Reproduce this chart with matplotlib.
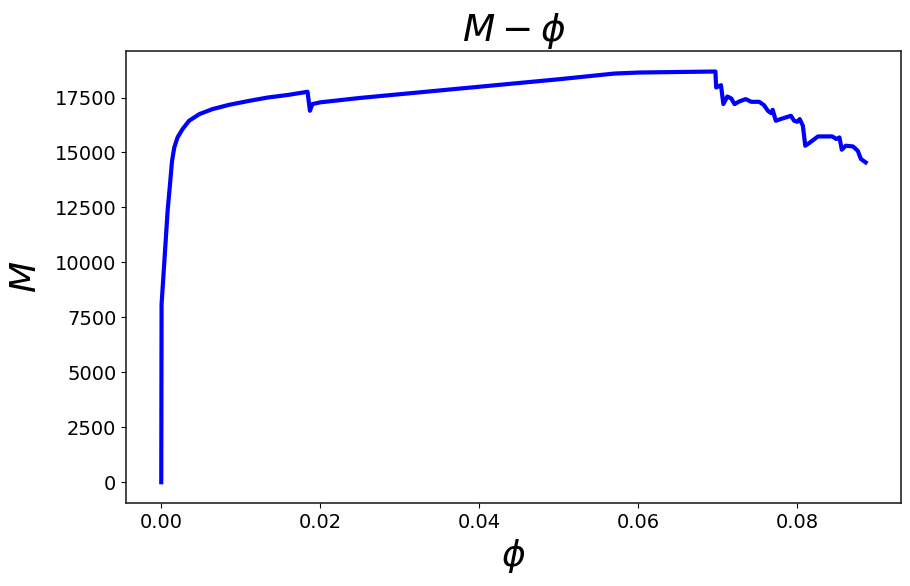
import matplotlib
matplotlib.use("Agg")
import matplotlib.pyplot as plt

# curvature (phi) and moment (M)
phi = [0.0, 0.00004, 0.0004, 0.0008, 0.0011, 0.00135, 0.00164, 0.00205, 0.00268,
       0.0035, 0.0048, 0.00645, 0.00855, 0.0111, 0.0134, 0.0160, 0.0184,
       0.0187, 0.0190, 0.0200, 0.0250, 0.0400, 0.0500, 0.0570, 0.0601, 0.0650, 0.0697,
       0.0698, 0.0704, 0.0707, 0.0712, 0.0717, 0.0721, 0.0727, 0.0735, 0.0742,
       0.0752, 0.0758, 0.0763, 0.0767, 0.0769, 0.0773, 0.0779, 0.0792, 0.0796,
       0.0800, 0.0803, 0.0807, 0.0810, 0.0815, 0.0826, 0.0836, 0.0844, 0.0849,
       0.0853, 0.0856, 0.0861, 0.0870, 0.0876, 0.0880, 0.0886]
M = [0, 8100, 10100, 12350, 13550, 14600, 15230, 15684, 16064,
     16442, 16746, 16973, 17169, 17350, 17500, 17620, 17760,
     16896, 17200, 17280, 17480, 17990, 18330, 18590, 18636, 18660, 18682,
     17955, 18061, 17200, 17545, 17455, 17200, 17319, 17427, 17305,
     17305, 17155, 16896, 16790, 16941, 16442, 16518, 16669, 16442,
     16397, 16518, 16215, 15307, 15429, 15730, 15730, 15730, 15611,
     15684, 15125, 15307, 15275, 15080, 14703, 14548]

fig = plt.figure(figsize=(9.1, 5.86), dpi=100)
ax = fig.add_axes([0.1385, 0.142, 0.8515, 0.771])
ax.plot(phi, M, color="blue", linewidth=3)

ax.set_title(r"$M-\phi$", fontsize=27)
ax.set_xlabel(r"$\phi$", fontsize=26)
ax.set_ylabel(r"$M$", fontsize=26, labelpad=8)
ax.tick_params(labelsize=14)
for s in ax.spines.values():
    s.set_color("0.15")
    s.set_linewidth(1.2)

fig.savefig("out.png", dpi=100)
